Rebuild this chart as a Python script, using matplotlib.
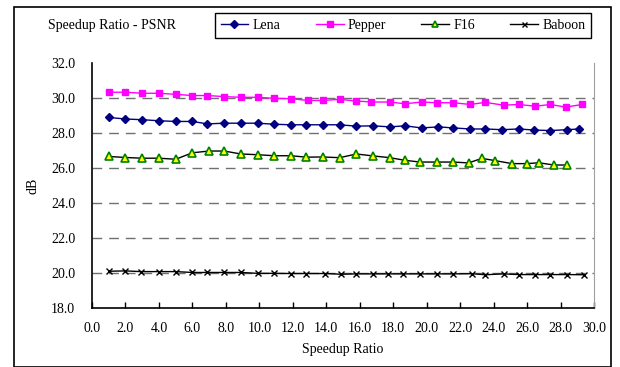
import matplotlib
matplotlib.use("Agg")
import matplotlib.pyplot as plt
from matplotlib.patches import Rectangle

# speedup ratios (x) and PSNR in dB (y) for each test image
lena_x = [1.0, 2.0, 3.0, 4.0, 5.0, 6.0, 6.9, 7.9, 8.9, 9.9, 10.9, 11.9, 12.8, 13.8,
          14.8, 15.8, 16.8, 17.8, 18.7, 19.7, 20.7, 21.6, 22.6, 23.5, 24.5, 25.5,
          26.4, 27.4, 28.4, 29.1]
lena_y = [28.89, 28.80, 28.76, 28.70, 28.66, 28.66, 28.52, 28.56, 28.56, 28.56,
          28.50, 28.47, 28.47, 28.47, 28.47, 28.39, 28.41, 28.35, 28.41, 28.29,
          28.35, 28.29, 28.23, 28.23, 28.19, 28.23, 28.17, 28.14, 28.19, 28.23]

pepper_x = [1.0, 2.0, 3.0, 4.0, 5.0, 6.0, 6.9, 7.9, 8.9, 9.9, 10.9, 11.9, 12.9, 13.8,
            14.8, 15.8, 16.7, 17.8, 18.7, 19.7, 20.6, 21.6, 22.6, 23.5, 24.6, 25.5,
            26.5, 27.4, 28.3, 29.3]
pepper_y = [30.33, 30.33, 30.27, 30.27, 30.21, 30.14, 30.14, 30.08, 30.04, 30.04,
            29.98, 29.96, 29.86, 29.86, 29.92, 29.83, 29.77, 29.77, 29.67, 29.77,
            29.73, 29.73, 29.63, 29.75, 29.59, 29.63, 29.53, 29.63, 29.48, 29.63]

f16_x = [1.0, 2.0, 3.0, 4.0, 5.0, 6.0, 7.0, 7.9, 8.9, 9.9, 10.9, 11.9, 12.8, 13.8,
         14.8, 15.8, 16.8, 17.8, 18.7, 19.6, 20.6, 21.6, 22.5, 23.3, 24.1, 25.1,
         26.0, 26.7, 27.6, 28.4]
f16_y = [26.66, 26.60, 26.56, 26.56, 26.50, 26.87, 26.97, 26.97, 26.80, 26.76,
         26.70, 26.70, 26.62, 26.63, 26.59, 26.80, 26.69, 26.59, 26.44, 26.34,
         26.34, 26.34, 26.29, 26.55, 26.42, 26.25, 26.25, 26.30, 26.17, 26.17]

baboon_x = [1.0, 2.0, 2.9, 4.0, 5.0, 6.0, 6.9, 7.9, 8.9, 9.9, 10.9, 11.9, 12.8, 13.9,
            14.9, 15.8, 16.8, 17.7, 18.6, 19.6, 20.6, 21.6, 22.7, 23.5, 24.6, 25.5,
            26.5, 27.4, 28.4, 29.4]
baboon_y = [20.10, 20.12, 20.08, 20.08, 20.08, 20.03, 20.03, 20.03, 20.03, 19.98,
            19.98, 19.97, 19.97, 19.97, 19.93, 19.95, 19.95, 19.95, 19.95, 19.95,
            19.95, 19.95, 19.96, 19.90, 19.95, 19.91, 19.91, 19.91, 19.91, 19.90]

x_ticks = [0, 2, 4, 6, 8, 10, 12, 14, 16, 18, 20, 22, 24, 26, 28, 30]
y_ticks = [18, 20, 22, 24, 26, 28, 30, 32]

plt.rcParams['font.family'] = ['Liberation Serif', 'DejaVu Serif']

W, H = 620, 367
fig = plt.figure(figsize=(W / 100, H / 100), dpi=100)
ax = fig.add_axes([92 / W, 1 - 308 / H, (594 - 92) / W, (308 - 63) / H])

ax.plot(lena_x, lena_y, color='#000080', lw=1, marker='D', ms=4,
        mfc='#000080', mec='#000080', label='Lena')
ax.plot(pepper_x, pepper_y, color='#FF00FF', lw=1, marker='s', ms=5,
        mfc='#FF00FF', mec='#FF00FF', label='Pepper')
ax.plot(f16_x, f16_y, color='black', lw=1, marker='^', ms=5.5,
        mfc='#FFFF00', mec='#008000', mew=1.2, label='F16')
ax.plot(baboon_x, baboon_y, color='black', lw=1, marker='x', ms=4,
        mew=1, label='Baboon')

ax.set_xlim(0, 30)
ax.set_ylim(18, 32)
ax.set_xticks(x_ticks)
ax.set_xticklabels(['%.1f' % v for v in x_ticks])
ax.set_yticks(y_ticks)
ax.set_yticklabels(['%.1f' % v for v in y_ticks])
ax.tick_params(axis='x', direction='in', length=4, width=1, labelsize=10, pad=10)
ax.tick_params(axis='y', length=0, labelsize=10, pad=12)

for v in y_ticks[1:-1]:
    ax.axhline(v, color='#707070', lw=1, dashes=(7, 5), zorder=0)

ax.spines['top'].set_visible(False)
ax.spines['right'].set_color('#a0a0a0')
ax.spines['left'].set_linewidth(1.2)
ax.spines['bottom'].set_linewidth(1.2)

ax.set_xlabel('Speedup Ratio', fontsize=10, labelpad=6)
ax.set_ylabel('dB', fontsize=10, labelpad=8)

fig.text(112 / W, 1 - 25 / H, 'Speedup Ratio - PSNR', fontsize=10,
         ha='center', va='center')

leg = fig.legend(loc='center', ncol=4, mode='expand',
                 bbox_to_anchor=(215 / W, 1 - 42 / H, 376 / W, 33 / H),
                 fontsize=10, handlelength=2.0, handletextpad=0.3,
                 columnspacing=1.5, fancybox=False, framealpha=1,
                 borderaxespad=0, markerscale=0.9)
leg.get_frame().set_edgecolor('black')
leg.get_frame().set_linewidth(1)

# outer chart border
fig.patches.append(Rectangle((14 / W, 0), (611 - 14) / W, 1 - 7 / H,
                             transform=fig.transFigure, fill=False,
                             edgecolor='black', lw=1.2))

fig.savefig('out.png', dpi=100)
